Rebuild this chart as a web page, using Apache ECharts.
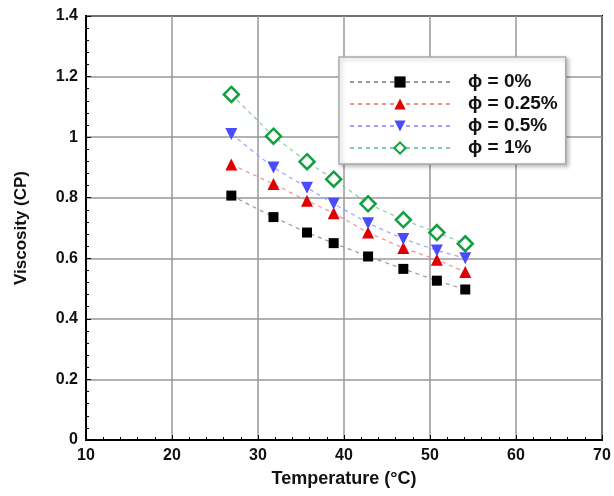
<!DOCTYPE html>
<html>
<head>
    <meta charset="utf-8">
    <title>Viscosity vs Temperature</title>
    <script src="https://cdn.jsdelivr.net/npm/echarts@6/dist/echarts.min.js"></script>
    <style>
        body { margin: 0; background: #fff; }
        #chart1 { width: 614px; height: 496px; }
    </style>
</head>
<body>
<div id="chart1"></div>
<script type="text/javascript">
    // temperatures (°C)
    var temps = [26.9, 31.8, 35.7, 38.8, 42.8, 46.9, 50.8, 54.1];
    // viscosity (cP) for each volume fraction
    var phi0 = [0.807, 0.736, 0.685, 0.650, 0.606, 0.565, 0.526, 0.497];
    var phi025 = [0.910, 0.845, 0.790, 0.749, 0.685, 0.634, 0.595, 0.555];
    var phi05 = [1.010, 0.900, 0.833, 0.780, 0.716, 0.664, 0.626, 0.600];
    var phi1 = [1.141, 1.003, 0.919, 0.861, 0.780, 0.727, 0.685, 0.648];
    var names = ['\u03d5 = 0%', '\u03d5 = 0.25%', '\u03d5 = 0.5%', '\u03d5 = 1%'];

    function pairs(ys) {
        return temps.map(function (t, i) { return [t, ys[i]]; });
    }

    var font = 'Liberation Sans, Arial, sans-serif';
    var myChart1 = echarts.init(document.getElementById('chart1'));

    myChart1.setOption({
        animation: false,
        grid: {
            left: 86, right: 12, top: 16, bottom: 56,
            show: true, borderColor: '#000', borderWidth: 2
        },
        legend: {
            left: 339, top: 57,
            orient: 'vertical',
            itemWidth: 100, itemHeight: 14, itemGap: 2,
            padding: [15, 8, 6, 10],
            backgroundColor: '#fff',
            borderColor: '#aaa', borderWidth: 1.5,
            shadowColor: 'rgba(0,0,0,0.25)', shadowBlur: 4, shadowOffsetX: 2, shadowOffsetY: 2,
            textStyle: {
                fontFamily: font, fontWeight: 'bold', fontSize: 19, color: '#111',
                lineHeight: 20, padding: [0, 0, 0, 13]
            },
            data: names
        },
        xAxis: {
            type: 'value', min: 10, max: 70, interval: 10,
            name: 'Temperature (\u00b0C)', nameLocation: 'middle', nameGap: 30,
            nameTextStyle: { fontFamily: font, fontWeight: 'bold', fontSize: 18, color: '#111' },
            axisLine: { lineStyle: { color: '#000', width: 2 } },
            axisTick: { inside: true, length: 5, lineStyle: { color: '#000' } },
            minorTick: { show: true, splitNumber: 5, length: 3, lineStyle: { color: '#000' } },
            axisLabel: { fontFamily: font, fontWeight: 'bold', fontSize: 16, color: '#111', margin: 8 },
            splitLine: { lineStyle: { color: '#999', width: 1.5 } }
        },
        yAxis: {
            type: 'value', min: 0, max: 1.4, interval: 0.2,
            name: 'Viscosity (CP)', nameLocation: 'middle', nameGap: 56,
            nameTextStyle: { fontFamily: font, fontWeight: 'bold', fontSize: 17, color: '#111' },
            axisLine: { lineStyle: { color: '#000', width: 2 } },
            axisTick: { inside: true, length: 5, lineStyle: { color: '#000' } },
            minorTick: { show: true, splitNumber: 5, length: 3, lineStyle: { color: '#000' } },
            axisLabel: { fontFamily: font, fontWeight: 'bold', fontSize: 16, color: '#111', margin: 8 },
            splitLine: { lineStyle: { color: '#999', width: 1.5 } }
        },
        series: [
            {
                name: names[0], type: 'line', data: pairs(phi0),
                symbol: 'rect', symbolSize: 10,
                itemStyle: { color: '#000' },
                lineStyle: { color: '#999', width: 1.2, type: [4, 4] }
            },
            {
                name: names[1], type: 'line', data: pairs(phi025),
                symbol: 'triangle', symbolSize: 12,
                itemStyle: { color: '#e00000' },
                lineStyle: { color: '#f09090', width: 1.2, type: [4, 4] }
            },
            {
                name: names[2], type: 'line', data: pairs(phi05),
                symbol: 'triangle', symbolRotate: 180, symbolSize: 12,
                itemStyle: { color: '#4a4aff' },
                lineStyle: { color: '#a0a0ff', width: 1.2, type: [4, 4] }
            },
            {
                name: names[3], type: 'line', data: pairs(phi1),
                symbol: 'diamond', symbolSize: 15,
                itemStyle: { color: '#fff', borderColor: '#10a040', borderWidth: 2.5 },
                lineStyle: { color: '#80d0a0', width: 1.2, type: [4, 4] }
            }
        ]
    });
</script>
</body>
</html>
